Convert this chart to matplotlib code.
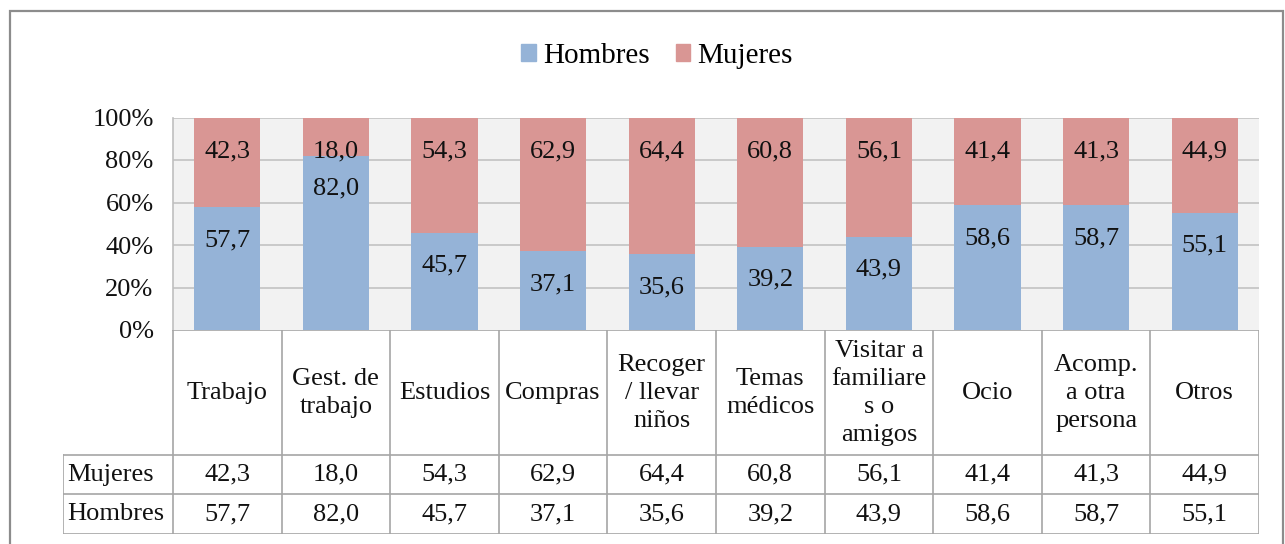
import matplotlib
matplotlib.use("Agg")
import matplotlib.pyplot as plt
from matplotlib.patches import Rectangle
from matplotlib.lines import Line2D

categories = ["Trabajo", "Gest. de\ntrabajo", "Estudios", "Compras", "Recoger\n/ llevar\nniños",
              "Temas\nmédicos", "Visitar a\nfamiliare\ns o\namigos", "Ocio", "Acomp.\na otra\npersona", "Otros"]
hombres = [57.7, 82.0, 45.7, 37.1, 35.6, 39.2, 43.9, 58.6, 58.7, 55.1]
mujeres = [42.3, 18.0, 54.3, 62.9, 64.4, 60.8, 56.1, 41.4, 41.3, 44.9]
yticks = [0, 20, 40, 60, 80, 100]
ytick_labels = ["0%", "20%", "40%", "60%", "80%", "100%"]

BLUE = "#95B3D7"
PINK = "#D99694"
GRID = "#BFBFBF"
TGRID = "#A6A6A6"
TXT = "#111111"
FS = 19

plt.rcParams["font.family"] = ["Liberation Serif", "DejaVu Serif"]

def fmt(v):
    return f"{v:.1f}".replace(".", ",")

W, H = 1285, 544
fig = plt.figure(figsize=(W / 100, H / 100), dpi=100)

def fx(px):
    return px / W

def fy(py):
    return 1 - py / H

# outer frame
fig.patches.append(Rectangle((fx(10), fy(560)), fx(1283) - fx(10), fy(11) - fy(560),
                             transform=fig.transFigure, fill=False, edgecolor="#8C8C8C",
                             linewidth=1.6, zorder=0))

# main axes
ax = fig.add_axes([fx(173), fy(330), fx(1259) - fx(173), fy(117.5) - fy(330)])
ax.set_facecolor("#F2F2F2")
n = len(categories)
x = list(range(n))
ax.bar(x, hombres, width=0.61, color=BLUE, zorder=3)
ax.bar(x, mujeres, width=0.61, bottom=hombres, color=PINK, zorder=3)
ax.set_xlim(-0.5, n - 0.5)
ax.set_ylim(0, 100)
ax.set_yticks(yticks)
ax.set_yticklabels(ytick_labels, fontsize=FS, color=TXT)
ax.tick_params(axis="y", length=0, pad=14)
ax.set_xticks([])
for s in ["top", "right", "bottom"]:
    ax.spines[s].set_visible(False)
ax.spines["left"].set_color(GRID)
ax.spines["left"].set_linewidth(1.2)
for yv in yticks[1:]:
    ax.axhline(yv, color=GRID, linewidth=1.1, zorder=1)

for i in range(n):
    ax.annotate(fmt(hombres[i]), xy=(i, hombres[i]), xytext=(0, -33), textcoords="offset pixels",
                ha="center", va="center", fontsize=FS, zorder=5, color=TXT)
    ax.annotate(fmt(mujeres[i]), xy=(i, 100), xytext=(0, -34), textcoords="offset pixels",
                ha="center", va="center", fontsize=FS, zorder=5, color=TXT)

# legend
handles = [Rectangle((0, 0), 1, 1, color=BLUE), Rectangle((0, 0), 1, 1, color=PINK)]
fig.legend(handles, ["Hombres", "Mujeres"], loc="center", bbox_to_anchor=(fx(657), fy(56)),
           ncol=2, frameon=False, prop={"size": 21},
           handlelength=0.5, handleheight=0.5, handletextpad=0.25, columnspacing=0.9)

# data table
tax = fig.add_axes([fx(63), fy(534), fx(1259) - fx(63), fy(330) - fy(534)])
left_edge = -0.5 - 110 / 108.6
tax.set_xlim(left_edge, n - 0.5)
tax.set_ylim(534, 330)
tax.axis("off")
rows = [("Mujeres", mujeres, 455, 494), ("Hombres", hombres, 494, 534)]
lw = 1.2
tax.add_line(Line2D([-0.5, n - 0.5], [330, 330], color=TGRID, lw=lw))
for yv in [455, 494, 534]:
    tax.add_line(Line2D([left_edge, n - 0.5], [yv, yv], color=TGRID, lw=lw))
tax.add_line(Line2D([left_edge, left_edge], [455, 534], color=TGRID, lw=lw))
for i in range(n + 1):
    tax.add_line(Line2D([i - 0.5, i - 0.5], [330, 534], color=TGRID, lw=lw))
for i, c in enumerate(categories):
    tax.text(i, 393, c, ha="center", va="center", fontsize=FS,
             linespacing=1.36, color=TXT)
for name, vals, y0, y1 in rows:
    tax.text(left_edge + 0.035, (y0 + y1) / 2, name, ha="left", va="center", fontsize=FS,
             color=TXT)
    for i, v in enumerate(vals):
        tax.text(i, (y0 + y1) / 2, fmt(v), ha="center", va="center", fontsize=FS,
                 color=TXT)

fig.savefig("out.png", dpi=100)
